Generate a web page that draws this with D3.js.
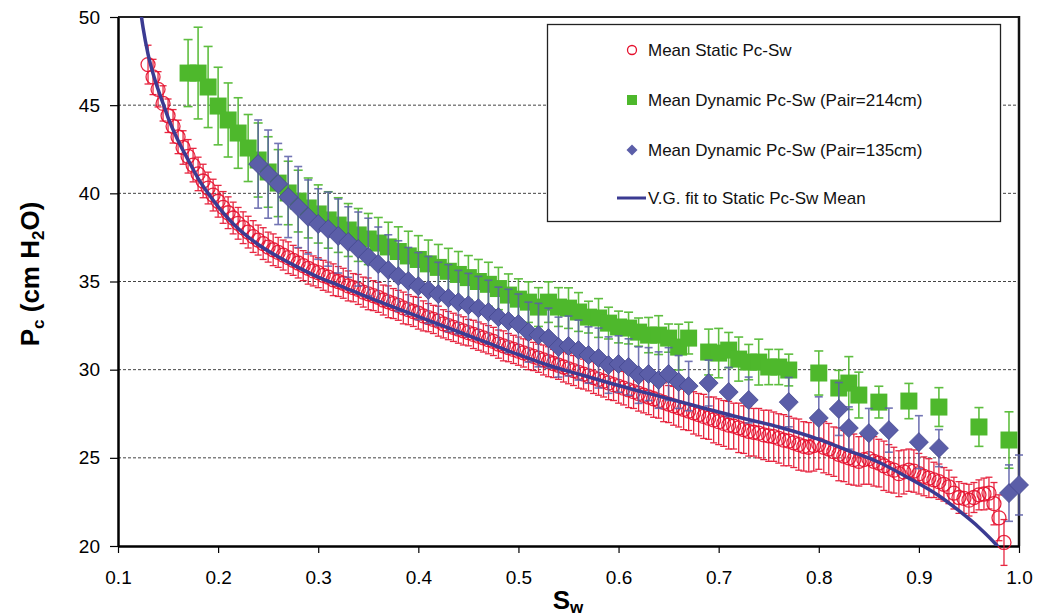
<!DOCTYPE html>
<html><head><meta charset="utf-8">
<script src="https://cdn.jsdelivr.net/npm/d3@7"></script>
<style>body{margin:0;background:#fff} svg{display:block;font-family:Arial,"Liberation Sans",sans-serif}</style>
</head><body><svg id="c" width="1040" height="616"></svg>
<script>
const xTicks=[0.1,0.2,0.3,0.4,0.5,0.6,0.7,0.8,0.9,1.0];
const yTicks=[20,25,30,35,40,45,50];
const gridValues=[25,30,35,40,45];
const seriesNames=["Mean Static Pc-Sw","Mean Dynamic Pc-Sw (Pair=214cm)","Mean Dynamic Pc-Sw (Pair=135cm)","V.G. fit to Static Pc-Sw Mean"];

const staticSw=[0.13,0.135,0.14,0.145,0.15,0.155,0.16,0.165,0.17,0.175,
0.18,0.185,0.19,0.195,0.2,0.205,0.21,0.215,0.22,0.225,
0.23,0.235,0.24,0.245,0.25,0.255,0.26,0.265,0.27,0.275,
0.28,0.285,0.29,0.295,0.3,0.305,0.31,0.315,0.32,0.325,
0.33,0.335,0.34,0.345,0.35,0.355,0.36,0.365,0.37,0.375,
0.38,0.385,0.39,0.395,0.4,0.405,0.41,0.415,0.42,0.425,
0.43,0.435,0.44,0.445,0.45,0.455,0.46,0.465,0.47,0.475,
0.48,0.485,0.49,0.495,0.5,0.505,0.51,0.515,0.52,0.525,
0.53,0.535,0.54,0.545,0.55,0.555,0.56,0.565,0.57,0.575,
0.58,0.585,0.59,0.595,0.6,0.605,0.61,0.615,0.62,0.625,
0.63,0.635,0.64,0.645,0.65,0.655,0.66,0.665,0.67,0.675,
0.68,0.685,0.69,0.695,0.7,0.705,0.71,0.715,0.72,0.725,
0.73,0.735,0.74,0.745,0.75,0.755,0.76,0.765,0.77,0.775,
0.78,0.785,0.79,0.795,0.8,0.805,0.81,0.815,0.82,0.825,
0.83,0.835,0.84,0.845,0.85,0.855,0.86,0.865,0.87,0.875,
0.88,0.885,0.89,0.895,0.9,0.905,0.91,0.915,0.92,0.925,
0.93,0.935,0.94,0.945,0.95,0.955,0.96,0.965,0.97,0.975,
0.98,0.985];
const staticPc=[47.3,46.6,45.9,45.1,44.4,43.8,43.2,42.6,42.1,41.6,
41.1,40.7,40.3,39.9,39.55,39.2,38.9,38.6,38.3,38.05,
37.8,37.55,37.35,37.15,36.95,36.8,36.65,36.5,36.35,36.2,
36.05,35.9,35.75,35.6,35.5,35.35,35.25,35.1,35.0,34.9,
34.75,34.65,34.55,34.4,34.3,34.2,34.1,33.95,33.85,33.75,
33.65,33.5,33.4,33.3,33.2,33.05,32.95,32.85,32.75,32.6,
32.5,32.4,32.3,32.2,32.1,32.0,31.9,31.8,31.7,31.6,
31.45,31.35,31.25,31.15,31.05,30.95,30.85,30.75,30.65,30.55,
30.45,30.35,30.25,30.15,30.05,29.95,29.85,29.75,29.65,29.55,
29.45,29.35,29.25,29.15,29.05,28.95,28.85,28.75,28.65,28.55,
28.45,28.35,28.25,28.15,28.05,27.95,27.85,27.75,27.65,27.55,
27.45,27.35,27.25,27.15,27.05,26.95,26.85,26.8,26.7,26.6,
26.5,26.45,26.4,26.3,26.25,26.2,26.1,26.0,25.95,25.85,
25.75,25.65,25.6,25.7,25.75,25.6,25.5,25.35,25.2,25.1,
25.0,24.9,24.8,24.9,24.95,24.8,24.7,24.55,24.4,24.3,
24.1,24.2,24.3,24.25,24.1,23.95,23.85,23.75,23.65,23.5,
23.35,23.0,22.75,22.7,22.6,22.75,22.9,22.95,23.0,22.4,
21.6,20.2];
const staticErr=[1.1,1.0,1.0,1.0,0.95,0.95,0.95,0.95,0.95,0.95,
0.95,0.95,0.9,0.9,0.9,0.9,0.9,0.9,0.9,0.9,
0.9,0.9,0.85,0.9,0.85,0.9,0.85,0.85,0.9,0.85,
0.85,0.85,0.9,0.85,0.85,0.85,0.85,0.9,0.85,0.85,
0.85,0.8,0.85,0.85,0.9,0.85,0.85,0.85,0.9,0.85,
0.85,0.9,0.85,0.85,0.9,0.85,0.8,0.8,0.85,0.8,
0.8,0.8,0.8,0.8,0.75,0.8,0.8,0.8,0.8,0.8,
0.8,0.85,0.8,0.8,0.8,0.8,0.85,0.8,0.8,0.85,
0.85,0.8,0.8,0.85,0.85,0.85,0.9,0.85,0.85,0.9,
0.9,0.9,0.95,0.9,0.95,0.95,1.0,0.95,1.0,1.0,
1.0,1.05,1.0,1.1,1.05,1.1,1.1,1.15,1.1,1.2,
1.2,1.25,1.2,1.3,1.3,1.3,1.35,1.3,1.4,1.35,
1.4,1.35,1.4,1.4,1.45,1.4,1.4,1.45,1.4,1.4,
1.45,1.4,1.4,1.45,1.4,1.45,1.45,1.4,1.5,1.45,
1.5,1.45,1.4,1.4,1.45,1.4,1.35,1.4,1.35,1.3,
1.3,1.25,1.2,1.2,1.15,1.1,1.1,1.0,1.0,0.95,
0.95,0.9,0.9,0.85,0.9,0.85,0.85,0.9,0.9,1.2,
1.3,1.3];

const dyn214Sw=[0.17,0.18,0.19,0.2,0.21,0.22,0.23,0.24,0.25,0.26,
0.27,0.28,0.29,0.3,0.31,0.32,0.33,0.34,0.35,0.36,
0.37,0.38,0.39,0.4,0.41,0.42,0.43,0.44,0.45,0.46,
0.47,0.48,0.49,0.5,0.51,0.52,0.53,0.54,0.55,0.56,
0.57,0.58,0.59,0.6,0.61,0.62,0.63,0.64,0.65,0.66,
0.67,0.69,0.7,0.71,0.72,0.73,0.74,0.75,0.76,0.77,
0.8,0.82,0.83,0.84,0.86,0.89,0.92,0.96,0.99];
const dyn214Pc=[46.82,46.82,46.03,44.95,44.16,43.42,42.57,41.89,41.21,40.58,
40.02,39.56,39.17,38.83,38.49,38.2,37.92,37.64,37.41,37.18,
36.96,36.7,36.45,36.25,36.0,35.8,35.58,35.4,35.22,35.0,
34.84,34.6,34.23,34.0,33.83,33.55,33.83,33.55,33.49,33.27,
32.98,32.93,32.64,32.42,32.36,32.13,31.96,31.96,31.79,31.28,
31.79,31.0,30.94,31.11,30.6,30.43,30.43,30.15,30.15,29.98,
29.81,28.96,29.24,28.56,28.16,28.22,27.88,26.75,26.01];
const dyn214Err=[1.9,2.6,2.3,2.2,2.1,2.0,1.9,2.1,2.0,1.9,
1.8,1.75,1.7,1.65,1.6,1.55,1.5,1.5,1.45,1.45,
1.4,1.4,1.4,1.35,1.35,1.3,1.3,1.3,1.25,1.25,
1.25,1.2,1.2,1.15,1.15,1.1,1.15,1.1,1.15,1.1,
0.9,1.1,0.9,0.9,0.9,0.8,1.0,1.1,0.8,1.3,
0.9,1.3,1.4,1.0,1.25,1.0,1.3,1.0,1.0,0.9,
1.25,1.0,1.5,1.3,0.9,1.0,1.1,1.1,1.6];

const dyn135Sw=[0.24,0.25,0.26,0.27,0.28,0.29,0.3,0.31,0.32,0.33,
0.34,0.35,0.36,0.37,0.38,0.39,0.4,0.41,0.42,0.43,
0.44,0.45,0.46,0.47,0.48,0.49,0.5,0.51,0.52,0.53,
0.54,0.55,0.56,0.57,0.58,0.59,0.6,0.61,0.62,0.63,
0.64,0.65,0.66,0.67,0.69,0.71,0.73,0.77,0.8,0.82,
0.83,0.85,0.87,0.9,0.92,0.99,1.0];
const dyn135Pc=[41.66,41.09,40.53,39.79,39.22,38.66,38.26,37.97,37.58,37.24,
36.84,36.39,35.99,35.65,35.31,35.03,34.74,34.52,34.29,34.06,
33.83,33.66,33.49,33.27,32.98,32.76,32.59,32.13,31.96,31.79,
31.28,31.34,31.11,30.83,30.66,30.26,30.32,30.15,29.69,29.75,
29.41,29.75,29.3,29.07,29.24,28.73,28.28,28.16,27.26,27.77,
26.69,26.4,26.57,25.89,25.55,23.0,23.46];
const dyn135Err=[2.5,2.5,2.3,2.3,2.3,2.1,2.0,2.1,2.1,2.0,
2.1,2.2,2.1,2.0,2.0,1.9,1.9,1.9,1.8,1.9,
1.8,1.8,1.8,1.8,1.7,1.8,1.7,1.7,1.8,1.7,
1.7,1.7,1.7,1.6,1.7,1.6,1.6,1.6,1.6,1.5,
1.6,1.5,1.5,1.4,1.3,1.4,1.3,1.4,1.2,1.5,
1.2,1.4,1.25,1.5,1.05,1.6,1.7];

const vgSw=[0.122,0.125,0.13,0.135,0.14,0.145,0.15,0.16,0.17,0.18,0.19,0.2,0.22,0.24,0.26,0.28,0.3,0.32,0.35,0.38,0.41,0.44,0.47,0.5,0.53,0.56,0.6,0.64,0.68,0.72,0.76,0.8,0.83,0.86,0.89,0.92,0.94,0.96,0.98,0.99];
const vgPc=[50.6,49.4,47.9,46.8,45.9,45.1,44.3,43.0,41.9,40.85,40.0,39.25,38.0,37.1,36.4,35.8,35.25,34.8,34.1,33.45,32.8,32.15,31.5,30.85,30.25,29.75,29.1,28.5,27.9,27.3,26.75,26.05,25.4,24.75,23.85,22.85,22.0,21.05,19.9,19.2];

const RED="#e5102d", GREEN="#4eb82c", BLUE="#5b5ea8", BLUE_EDGE="#44478f", LINE="#3b3b92";
const L=118,R=1019,T=17,B=546;
const x=d3.scaleLinear().domain([0.1,1.0]).range([L,R]);
const y=d3.scaleLinear().domain([20,50]).range([B,T]);
const svg=d3.select("#c");

svg.append("defs").append("clipPath").attr("id","plotclip")
  .append("rect").attr("x",L).attr("y",T).attr("width",R-L).attr("height",B-T);

// grid
svg.append("g").selectAll("line").data(gridValues).join("line")
  .attr("x1",L).attr("x2",R).attr("y1",d=>y(d)).attr("y2",d=>y(d))
  .attr("stroke","#444").attr("stroke-width",1).attr("stroke-dasharray","3,2");

// frame top/right
svg.append("line").attr("x1",L).attr("x2",R).attr("y1",T).attr("y2",T).attr("stroke","#222").attr("stroke-width",2);
svg.append("line").attr("x1",R).attr("x2",R).attr("y1",T-1).attr("y2",B).attr("stroke","#111").attr("stroke-width",2.5);

// axes
const yAxis=svg.append("g").attr("transform",`translate(${L},0)`)
  .call(d3.axisLeft(y).tickValues(yTicks).tickSize(8).tickPadding(10).tickSizeOuter(0).tickFormat(d3.format("d")));
const xAxis=svg.append("g").attr("transform",`translate(0,${B})`)
  .call(d3.axisBottom(x).tickValues(xTicks).tickSize(7).tickPadding(18).tickSizeOuter(0).tickFormat(d3.format(".1f")));
[yAxis,xAxis].forEach(a=>{
  a.select(".domain").attr("stroke","#000").attr("stroke-width",2.5);
  a.selectAll(".tick line").attr("stroke","#000").attr("stroke-width",1.2);
  a.selectAll("text").attr("fill","#000").attr("font-family","Arial, Liberation Sans, sans-serif");
});
yAxis.selectAll("text").attr("font-size",19);
xAxis.selectAll("text").attr("font-size",19);

function errorBars(sw,pc,er,color,cap,width,op){
  const data=sw.map((s,i)=>({s:s,p:pc[i],e:er[i]}));
  const g=svg.append("g").attr("stroke",color).attr("stroke-width",width).attr("opacity",op);
  g.selectAll("line.v").data(data).join("line").attr("class","v")
    .attr("x1",d=>x(d.s)).attr("x2",d=>x(d.s)).attr("y1",d=>y(d.p+d.e)).attr("y2",d=>y(d.p-d.e));
  g.selectAll("line.t").data(data).join("line").attr("class","t")
    .attr("x1",d=>x(d.s)-cap/2).attr("x2",d=>x(d.s)+cap/2).attr("y1",d=>y(d.p+d.e)).attr("y2",d=>y(d.p+d.e));
  g.selectAll("line.b").data(data).join("line").attr("class","b")
    .attr("x1",d=>x(d.s)-cap/2).attr("x2",d=>x(d.s)+cap/2).attr("y1",d=>y(d.p-d.e)).attr("y2",d=>y(d.p-d.e));
}

// static series
errorBars(staticSw,staticPc,staticErr,RED,7,1.3,0.9);
svg.append("g").selectAll("circle").data(staticSw.map((s,i)=>[s,staticPc[i]])).join("circle")
  .attr("cx",d=>x(d[0])).attr("cy",d=>y(d[1])).attr("r",7)
  .attr("fill","none").attr("stroke",RED).attr("stroke-width",1.3).attr("opacity",0.9);

// dynamic 214
errorBars(dyn214Sw,dyn214Pc,dyn214Err,GREEN,9,1.6,0.9);
svg.append("g").selectAll("rect").data(dyn214Sw.map((s,i)=>[s,dyn214Pc[i]])).join("rect")
  .attr("x",d=>x(d[0])-8.5).attr("y",d=>y(d[1])-8.5).attr("width",17).attr("height",17)
  .attr("fill",GREEN);

// dynamic 135
errorBars(dyn135Sw,dyn135Pc,dyn135Err,BLUE,8,1.6,0.85);
svg.append("g").selectAll("path").data(dyn135Sw.map((s,i)=>[s,dyn135Pc[i]])).join("path")
  .attr("transform",d=>`translate(${x(d[0])},${y(d[1])})`)
  .attr("d","M0,-9.5L9.5,0L0,9.5L-9.5,0Z").attr("fill",BLUE).attr("stroke",BLUE_EDGE).attr("stroke-width",0.8);

// VG line
svg.append("path").datum(vgSw.map((s,i)=>[s,vgPc[i]]))
  .attr("clip-path","url(#plotclip)")
  .attr("d",d3.line().x(d=>x(d[0])).y(d=>y(d[1])).curve(d3.curveMonotoneX))
  .attr("fill","none").attr("stroke",LINE).attr("stroke-width",3.5);

// legend
const lg=svg.append("g");
lg.append("rect").attr("x",547.5).attr("y",24.5).attr("width",453).attr("height",197)
  .attr("fill","#fff").attr("stroke","#222").attr("stroke-width",1.3);
const rows=[50,100,150,198];
const mx=632, tx=648;
lg.append("circle").attr("cx",mx).attr("cy",rows[0]).attr("r",4.5).attr("fill","none").attr("stroke",RED).attr("stroke-width",1.3);
lg.append("rect").attr("x",mx-5).attr("y",rows[1]-5).attr("width",10).attr("height",10).attr("fill",GREEN);
lg.append("path").attr("transform",`translate(${mx},${rows[2]})`).attr("d","M0,-5.5L5.5,0L0,5.5L-5.5,0Z").attr("fill",BLUE);
lg.append("line").attr("x1",617).attr("x2",646).attr("y1",rows[3]).attr("y2",rows[3]).attr("stroke",LINE).attr("stroke-width",3);
lg.selectAll("text").data(seriesNames).join("text")
  .attr("x",tx).attr("y",(d,i)=>rows[i]+6).attr("font-size",17).attr("fill","#111").text(d=>d);

// axis titles
const yt=svg.append("text").attr("transform","translate(39,274) rotate(-90)")
  .attr("text-anchor","middle").attr("font-weight","bold").attr("font-size",26).attr("fill","#000");
yt.append("tspan").text("P");
yt.append("tspan").attr("font-size",17).attr("dy",5).text("c");
yt.append("tspan").attr("dy",-5).text(" (cm H");
yt.append("tspan").attr("font-size",17).attr("dy",5).text("2");
yt.append("tspan").attr("dy",-5).text("O)");

const xt=svg.append("text").attr("x",568).attr("y",609)
  .attr("text-anchor","middle").attr("font-weight","bold").attr("font-size",26).attr("fill","#000");
xt.append("tspan").text("S");
xt.append("tspan").attr("font-size",17).attr("dy",4).text("w");
</script>
</body></html>
